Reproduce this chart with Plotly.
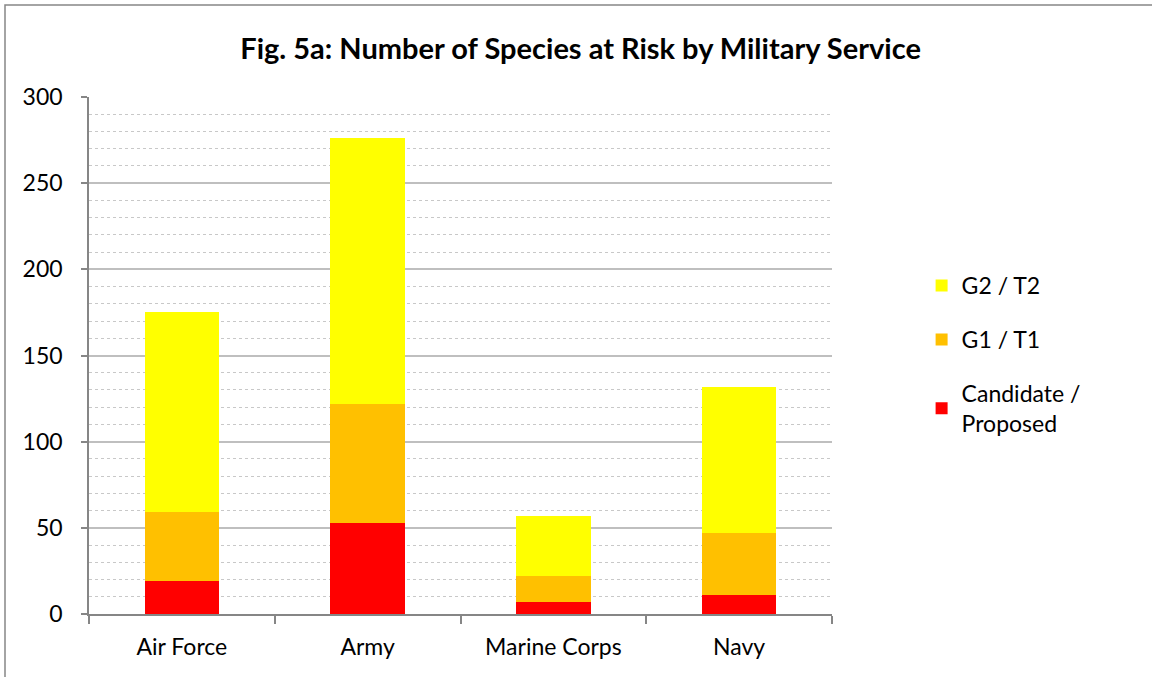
import plotly.graph_objects as go

categories = ["Air Force", "Army", "Marine Corps", "Navy"]
candidate = [19, 53, 7, 11]
g1_t1 = [40, 69, 15, 36]
g2_t2 = [116, 154, 35, 85]

FONT = "Lato, Open Sans, sans-serif"

fig = go.Figure()
fig.add_trace(go.Bar(x=categories, y=candidate, name="Candidate /<br>Proposed",
                     marker=dict(color="#FF0000", line=dict(width=0)), legendgroup="c", legendrank=3))
fig.add_trace(go.Bar(x=categories, y=g1_t1, name="G1 / T1",
                     marker=dict(color="#FFC000", line=dict(width=0)), legendgroup="b", legendrank=2))
fig.add_trace(go.Bar(x=categories, y=g2_t2, name="G2 / T2",
                     marker=dict(color="#FFFF00", line=dict(width=0)), legendgroup="a", legendrank=1))

fig.update_layout(
    width=1152, height=677,
    barmode="stack", bargap=0.6,
    paper_bgcolor="white", plot_bgcolor="white",
    margin=dict(l=89, r=320, t=97, b=63),
    font=dict(family=FONT, size=23, color="black"),
    title=dict(text="<b>Fig. 5a: Number of Species at Risk by Military Service</b>",
               x=0.504, xanchor="center", y=0.928, yanchor="middle",
               xref="container", yref="container",
               font=dict(family=FONT, size=29, color="black")),
    legend=dict(traceorder="grouped", xref="container", yref="container",
                x=0.8, y=0.61, xanchor="left", yanchor="top",
                tracegroupgap=21, font=dict(size=23), itemwidth=30,
                bgcolor="rgba(0,0,0,0)"),
    showlegend=True,
)
fig.update_xaxes(showline=True, linecolor="#868686", linewidth=1.5,
                 ticks="outside", tickson="boundaries", ticklen=8, tickcolor="#868686",
                 tickwidth=1.5, showgrid=False, ticklabelstandoff=12)
fig.update_yaxes(range=[0, 300], dtick=50, showline=True, linecolor="#868686", linewidth=1.5,
                 ticks="outside", ticklen=6, tickcolor="#868686", tickwidth=1.5,
                 showgrid=True, gridcolor="#BFBFBF", gridwidth=1.5,
                 minor=dict(dtick=10, showgrid=True, griddash="dot", gridcolor="#C8C8C8", gridwidth=1),
                 zeroline=False, ticklabelstandoff=14)

fig.add_shape(type="rect", xref="paper", yref="paper",
              x0=-(89-5)/743, x1=(1160-89)/743, y0=-(690-614)/517, y1=1+(97-5)/517,
              line=dict(color="#868686", width=1.5), fillcolor="rgba(0,0,0,0)", layer="below")

fig.write_html("out.html")
